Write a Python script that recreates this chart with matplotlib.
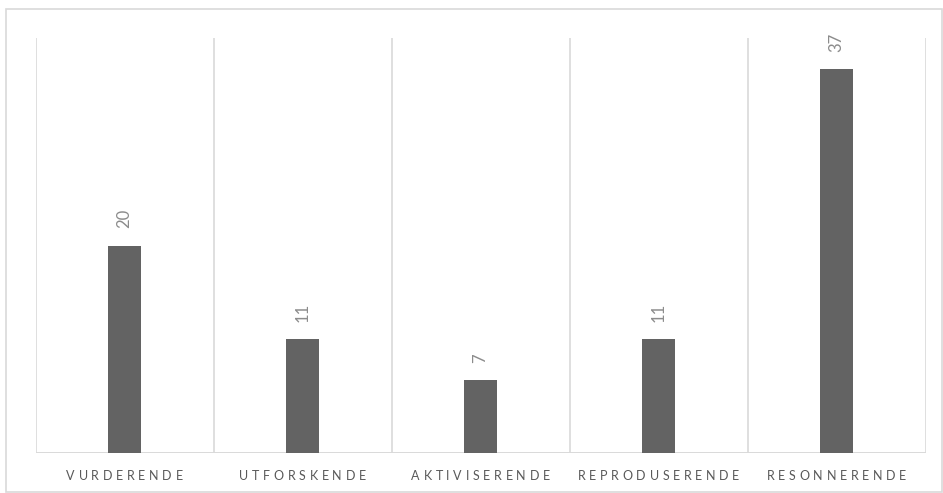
import matplotlib
matplotlib.use("Agg")
import matplotlib.pyplot as plt
from matplotlib.font_manager import FontProperties
from matplotlib.patches import Rectangle

# Data
categories = ["VURDERENDE", "UTFORSKENDE", "AKTIVISERENDE", "REPRODUSERENDE", "RESONNERENDE"]
values = [20, 11, 7, 11, 37]
y_max = 40

BAR_COLOR = "#636363"
GRID_COLOR = "#d9d9d9"
VALUE_COLOR = "#8c8c8c"
LABEL_COLOR = "#595959"
FONT = "Lato"
TRACKING = 3.7  # extra pixels between letters of category labels

W, H, DPI = 943, 493, 100
fig = plt.figure(figsize=(W / DPI, H / DPI), dpi=DPI)
fig.patch.set_facecolor("white")

# Outer chart border
fig.patches.append(Rectangle((6 / W, 1 - 492 / H), (942 - 6) / W, (492 - 9) / H,
                             transform=fig.transFigure, fill=False,
                             edgecolor=GRID_COLOR, linewidth=1.2))

ax_left, ax_right, ax_top, ax_bottom = 35.5, 925.5, 38.3, 452.7
ax = fig.add_axes([ax_left / W, 1 - ax_bottom / H, (ax_right - ax_left) / W, (ax_bottom - ax_top) / H])

x = list(range(len(categories)))
ax.bar(x, values, width=0.185, color=BAR_COLOR, zorder=3)
ax.set_xlim(-0.5, len(categories) - 0.5)
ax.set_ylim(0, y_max)

# Vertical category separators
for b in range(len(categories) + 1):
    ax.axvline(b - 0.5, color=GRID_COLOR, linewidth=1.2, zorder=1)
ax.axhline(0, color=GRID_COLOR, linewidth=1.4, zorder=2)

for s in ax.spines.values():
    s.set_visible(False)
ax.set_xticks([])
ax.set_yticks([])

# Value labels, rotated, above each bar
for xi, v in zip(x, values):
    ax.annotate(str(v), (xi, v), xytext=(0, 17), textcoords="offset pixels",
                rotation=90, ha="center", va="bottom", color=VALUE_COLOR,
                fontsize=12, family=FONT)

# Letter-spaced category labels
fig.canvas.draw()
renderer = fig.canvas.get_renderer()
fp = FontProperties(family=FONT, size=9)

def text_width(s):
    if not s:
        return 0.0
    w, _, _ = renderer.get_text_width_height_descent(s, fp, ismath=False)
    return w

label_y = 1 - 479.5 / H
for xi, name in zip(x, categories):
    total = text_width(name) + TRACKING * (len(name) - 1)
    cx_pix = ax.transData.transform((xi, 0))[0]
    start = cx_pix - total / 2
    for i, ch in enumerate(name):
        px = start + text_width(name[:i]) + TRACKING * i
        fig.text(px / W, label_y, ch, fontproperties=fp, color=LABEL_COLOR,
                 ha="left", va="baseline")

fig.savefig("out.png", dpi=DPI, facecolor="white")
